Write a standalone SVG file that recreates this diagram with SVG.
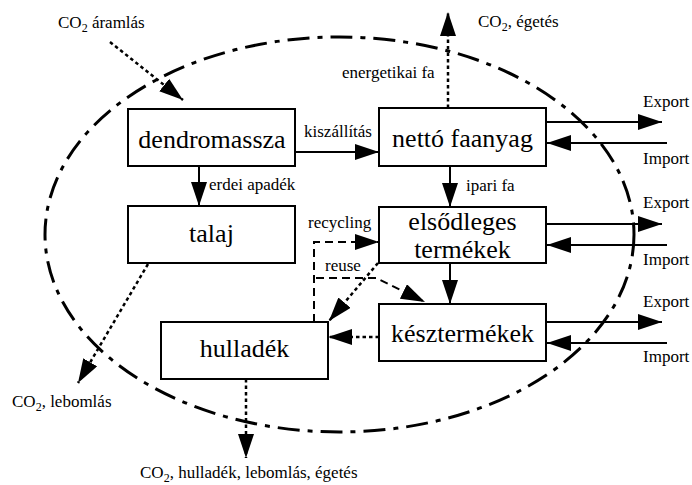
<svg xmlns="http://www.w3.org/2000/svg" width="692" height="485" viewBox="0 0 692 485">
<style>
.box{fill:#fff;stroke:#000;stroke-width:2}
.big{font-family:"Liberation Serif","Times New Roman",serif;font-size:26px;text-anchor:middle;fill:#000}
.lbl{font-family:"Liberation Serif","Times New Roman",serif;font-size:17px;fill:#000}
.ln{stroke:#000;stroke-width:2;fill:none}
.dot{stroke-dasharray:3.5 3;stroke-width:2.5}
.dash{stroke-dasharray:8 5}
.sub{font-size:12px}
</style>
<defs>
<marker id="ah" markerUnits="userSpaceOnUse" markerWidth="24" markerHeight="16" refX="24" refY="8" orient="auto">
<path d="M0,0 L24,8 L0,16 Z" fill="#000"/>
</marker>
</defs>
<rect width="692" height="485" fill="#fff"/>
<g id="boundary">
<ellipse cx="339.5" cy="234.5" rx="294.5" ry="197.5" fill="none" stroke="#000" stroke-width="3" stroke-dasharray="22 8 5 8"/>
</g>
<g id="connectors">
<line class="ln dot" x1="110" y1="42" x2="183" y2="100" marker-end="url(#ah)"/>
<line class="ln" x1="295" y1="152" x2="379" y2="152" marker-end="url(#ah)"/>
<line class="ln" x1="199" y1="166" x2="199" y2="206" marker-end="url(#ah)"/>
<line class="ln" x1="450" y1="166" x2="450" y2="207" marker-end="url(#ah)"/>
<line class="ln" x1="450" y1="263" x2="450" y2="304" marker-end="url(#ah)"/>
<line class="ln dot" x1="448" y1="108" x2="448" y2="12" marker-end="url(#ah)"/>
<line class="ln dot" x1="148" y1="264" x2="78" y2="383" marker-end="url(#ah)"/>
<line class="ln dot" x1="246" y1="379" x2="246" y2="458" marker-end="url(#ah)"/>
<line class="ln dot" x1="379" y1="337" x2="328" y2="337" marker-end="url(#ah)"/>
<line class="ln dot" x1="378" y1="263" x2="329" y2="321" marker-end="url(#ah)"/>
<path class="ln dash" d="M314,322 V242 H379" marker-end="url(#ah)"/>
<path class="ln dash" d="M316,278 H376 L425,302" marker-end="url(#ah)"/>
<line class="ln" x1="546" y1="122" x2="662" y2="122" marker-end="url(#ah)"/>
<line class="ln" x1="667" y1="143" x2="547" y2="143" marker-end="url(#ah)"/>
<line class="ln" x1="546" y1="224" x2="662" y2="224" marker-end="url(#ah)"/>
<line class="ln" x1="667" y1="245" x2="547" y2="245" marker-end="url(#ah)"/>
<line class="ln" x1="546" y1="322" x2="662" y2="322" marker-end="url(#ah)"/>
<line class="ln" x1="667" y1="343" x2="547" y2="343" marker-end="url(#ah)"/>
<text class="lbl" x="58" y="28">CO<tspan class="sub" dy="4">2</tspan><tspan dy="-4"> áramlás</tspan></text>
<text class="lbl" x="478" y="27">CO<tspan class="sub" dy="4">2</tspan><tspan dy="-4">, égetés</tspan></text>
<text class="lbl" x="342" y="78">energetikai fa</text>
<text class="lbl" x="304" y="137">kiszállítás</text>
<text class="lbl" x="209" y="190">erdei apadék</text>
<text class="lbl" x="466" y="191">ipari fa</text>
<text class="lbl" x="308" y="228">recycling</text>
<text class="lbl" x="325" y="271">reuse</text>
<text class="lbl" x="643" y="107">Export</text>
<text class="lbl" x="643" y="164">Import</text>
<text class="lbl" x="643" y="208">Export</text>
<text class="lbl" x="643" y="265">Import</text>
<text class="lbl" x="643" y="307">Export</text>
<text class="lbl" x="643" y="362">Import</text>
<text class="lbl" x="12" y="407">CO<tspan class="sub" dy="4">2</tspan><tspan dy="-4">, lebomlás</tspan></text>
<text class="lbl" x="140" y="478">CO<tspan class="sub" dy="4">2</tspan><tspan dy="-4">, hulladék, lebomlás, égetés</tspan></text>
</g>
<g id="dendromassza">
<rect class="box" x="128" y="109" width="167" height="57"/>
<text class="big" x="212" y="148">dendromassza</text>
</g>
<g id="netto-faanyag">
<rect class="box" x="379" y="108" width="167" height="58"/>
<text class="big" x="462.5" y="147">nettó faanyag</text>
</g>
<g id="talaj">
<rect class="box" x="128" y="206" width="167" height="57"/>
<text class="big" x="211.5" y="242">talaj</text>
</g>
<g id="elsodleges-termekek">
<rect class="box" x="379" y="207" width="167" height="56"/>
<text class="big" x="462.5" y="230">elsődleges</text>
<text class="big" x="462.5" y="258">termékek</text>
</g>
<g id="kesztermekek">
<rect class="box" x="379" y="304" width="167" height="57"/>
<text class="big" x="462.5" y="342">késztermékek</text>
</g>
<g id="hulladek">
<rect class="box" x="161" y="322" width="167" height="57"/>
<text class="big" x="244.5" y="357">hulladék</text>
</g>
</svg>
